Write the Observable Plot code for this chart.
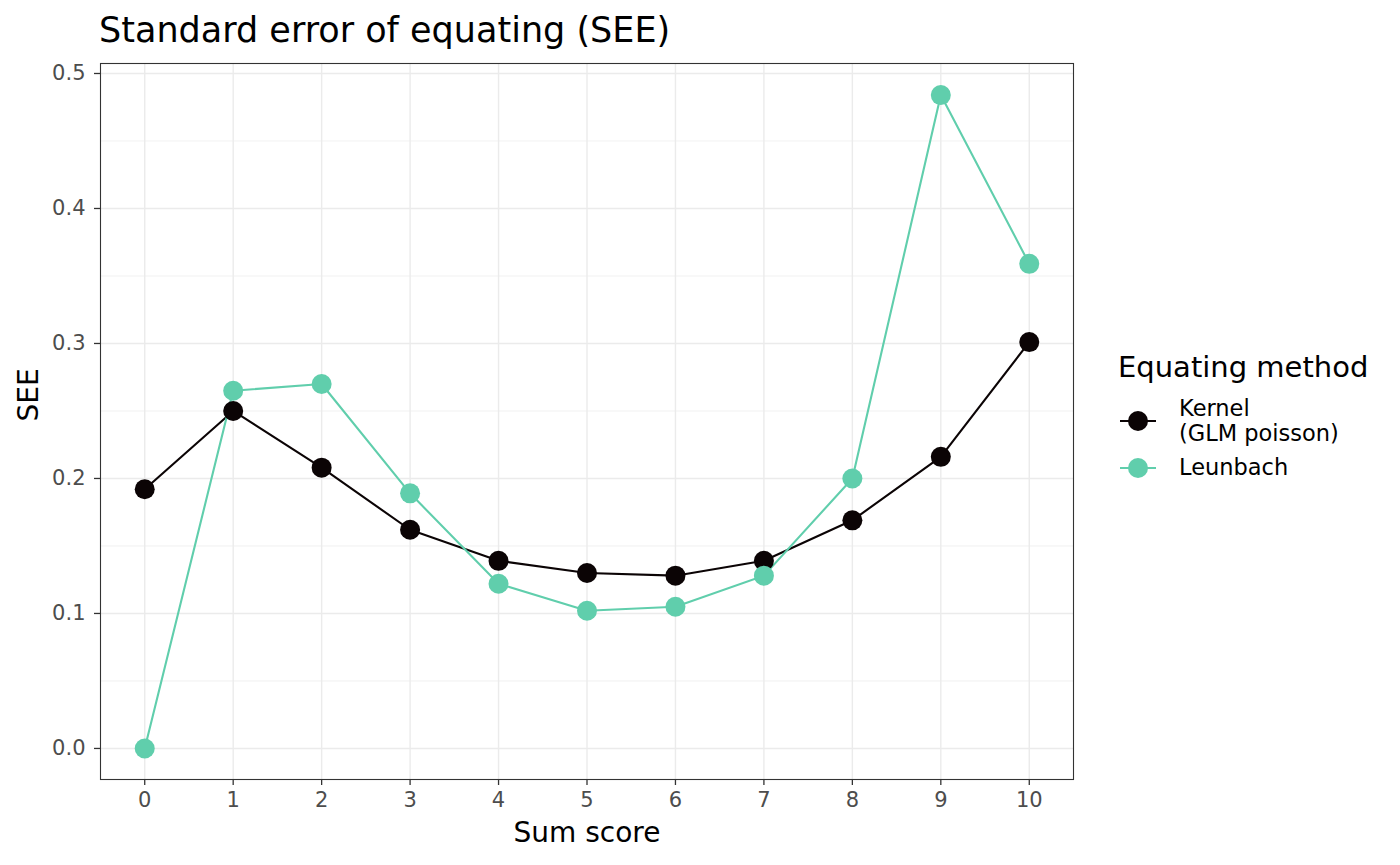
<!DOCTYPE html>
<html><head><meta charset="utf-8">
<script src="https://cdn.jsdelivr.net/npm/d3@7"></script>
<script src="https://cdn.jsdelivr.net/npm/@observablehq/plot@0.6"></script>
<style>
body{margin:0;background:#fff;font-family:"DejaVu Sans",sans-serif;}
#wrap{position:relative;width:1400px;height:865px;}
#chart{position:absolute;left:0;top:0;}
#title{position:absolute;left:99px;top:8px;font-size:35px;line-height:44px;color:#000;white-space:nowrap;}
#legend{position:absolute;left:1118px;top:349px;color:#000;}
#legend .lt{font-size:29px;line-height:36px;margin-bottom:11px;white-space:nowrap;}
#legend .it{display:flex;align-items:center;font-size:22.5px;line-height:25px;white-space:nowrap;}
#legend svg{margin-right:21px;flex:none;}
</style></head><body>
<div id="wrap"><div id="chart"></div><div id="title">Standard error of equating (SEE)</div><div id="legend"></div></div>
<script>
const sumScores = [0,1,2,3,4,5,6,7,8,9,10];
const methods = ["Kernel\n(GLM poisson)", "Leunbach"];
const kernelSEE = [0.192,0.250,0.208,0.162,0.139,0.130,0.128,0.139,0.169,0.216,0.301];
const leunbachSEE = [0.000,0.265,0.270,0.189,0.122,0.102,0.105,0.128,0.200,0.484,0.359];
const colors = ["#0B0405","#60CEAC"];
const yTicks = [0,0.1,0.2,0.3,0.4,0.5];
const yMinor = [0.05,0.15,0.25,0.35,0.45];

const data = [
  ...sumScores.map((x,i)=>({x, y:kernelSEE[i], m:methods[0]})),
  ...sumScores.map((x,i)=>({x, y:leunbachSEE[i], m:methods[1]}))
];

const chart = Plot.plot({
  width:1400, height:865,
  marginLeft:100, marginRight:327, marginTop:63, marginBottom:86,
  style:{fontFamily:"DejaVu Sans, sans-serif", background:"#fff", overflow:"visible"},
  x:{domain:[-0.5,10.5], label:null},
  y:{domain:[-0.023,0.5074], label:null},
  color:{domain:methods, range:colors},
  marks:[
    Plot.ruleY(yMinor,{stroke:"#ebebeb", strokeWidth:0.7}),
    Plot.ruleY(yTicks,{stroke:"#ebebeb", strokeWidth:1.4}),
    Plot.ruleX(sumScores,{stroke:"#ebebeb", strokeWidth:1.4}),
    Plot.frame({stroke:"#333", strokeWidth:1.1}),
    Plot.axisX({ticks:sumScores, tickFormat:d=>String(d), tickSize:6, tickPadding:7, stroke:"#333", strokeWidth:1.3, fill:"#4d4d4d", fontSize:21, label:null}),
    Plot.axisY({ticks:yTicks, tickFormat:d3.format(".1f"), tickSize:6, tickPadding:9, stroke:"#333", strokeWidth:1.3, fill:"#4d4d4d", fontSize:21, label:null}),
    Plot.line(data,{x:"x", y:"y", z:"m", stroke:"m", strokeWidth:2.1}),
    Plot.dot(data,{x:"x", y:"y", fill:"m", r:10}),
    Plot.text(["Sum score"],{frameAnchor:"bottom", dy:62, fill:"#000", fontSize:28}),
    Plot.text(["SEE"],{frameAnchor:"left", dx:-71, rotate:-90, fill:"#000", fontSize:28})
  ]
});
document.getElementById("chart").appendChild(chart);

const lg = document.getElementById("legend");
lg.innerHTML = `<div class="lt">Equating method</div>` + methods.map((m,i)=>`
  <div class="it" style="margin-bottom:${i===0?9:0}px"><svg width="40" height="${i===0?50:24}" viewBox="0 ${i===0?-13:0} 40 ${i===0?50:24}"><line x1="2" x2="38" y1="12" y2="12" stroke="${colors[i]}" stroke-width="2.1"/><circle cx="20" cy="12" r="10" fill="${colors[i]}"/></svg><div>${m.replace("\n","<br>")}</div></div>`).join("");
</script>
</body></html>
